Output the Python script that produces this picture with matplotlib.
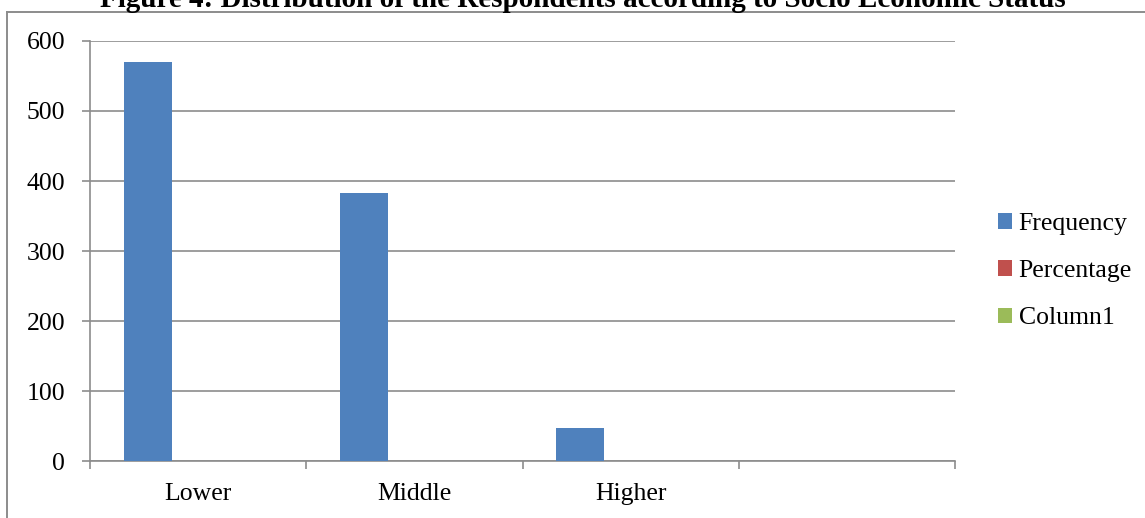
import matplotlib
matplotlib.use('Agg')
import matplotlib.pyplot as plt
from matplotlib.lines import Line2D
import numpy as np

# --- data ---
categories = ['Lower', 'Middle', 'Higher', '']
frequency = [570, 383, 47, 0]
percentage = [0.57, 0.383, 0.047, 0]
column1 = [0, 0, 0, 0]
series_names = ['Frequency', 'Percentage', 'Column1']
series_colors = ['#4F81BD', '#C0504D', '#9BBB59']
title = 'Figure 4: Distribution of the Respondents according to Socio Economic Status'

plt.rcParams['font.family'] = ['Liberation Serif', 'DejaVu Serif']

W, H = 1145, 518
fig = plt.figure(figsize=(W / 100, H / 100), dpi=100)
ax = fig.add_axes([90 / W, 1 - 461 / H, (955 - 90) / W, (461 - 41) / H])

grid_col = '#8c8c8c'
x = np.arange(len(categories))
bw = 48 / 216
for i, (vals, name, col) in enumerate(zip([frequency, percentage, column1],
                                          series_names, series_colors)):
    ax.bar(x + (i - 1) * bw - 0.01, vals, width=bw, color=col, label=name, zorder=3)

ax.set_xlim(-0.5, len(categories) - 0.5)
ax.set_ylim(0, 600)
ax.set_yticks(np.arange(0, 601, 100))
ax.yaxis.grid(True, color=grid_col, linewidth=1.2, zorder=0)

# category boundaries as tick marks, labels centred in each slot
ax.set_xticks(np.arange(-0.5, len(categories), 1.0))
ax.set_xticklabels([])
ax.set_xticks(x, minor=True)
ax.set_xticklabels(categories, minor=True)
ax.tick_params(axis='x', which='major', direction='out', length=5.5,
               width=1.2, color=grid_col)
ax.tick_params(axis='x', which='minor', length=0, pad=15.5, labelsize=18.5)
ax.tick_params(axis='y', direction='out', length=6, width=1.2,
               color=grid_col, pad=12, labelsize=18.5)

for side in ['top', 'right']:
    ax.spines[side].set_visible(False)
for side in ['left', 'bottom']:
    ax.spines[side].set_color(grid_col)
    ax.spines[side].set_linewidth(1.2)

leg = ax.legend(loc='center left', bbox_to_anchor=(1.023, 0.452), frameon=False,
                fontsize=18.5, handlelength=0.55, handleheight=0.55,
                handletextpad=0.25, labelspacing=0.98)

# outer chart border (left and top edges)
fig.add_artist(Line2D([7 / W, 7 / W], [0, 1 - 12 / H], transform=fig.transFigure,
                      color=grid_col, linewidth=1.4))
fig.add_artist(Line2D([7 / W, 1], [1 - 12 / H, 1 - 12 / H], transform=fig.transFigure,
                      color=grid_col, linewidth=1.4))

fig.text(583 / W, 1 - 7 / H, title, ha='center', va='baseline',
         fontsize=21, fontweight='bold')

fig.savefig('out.png', dpi=100)
